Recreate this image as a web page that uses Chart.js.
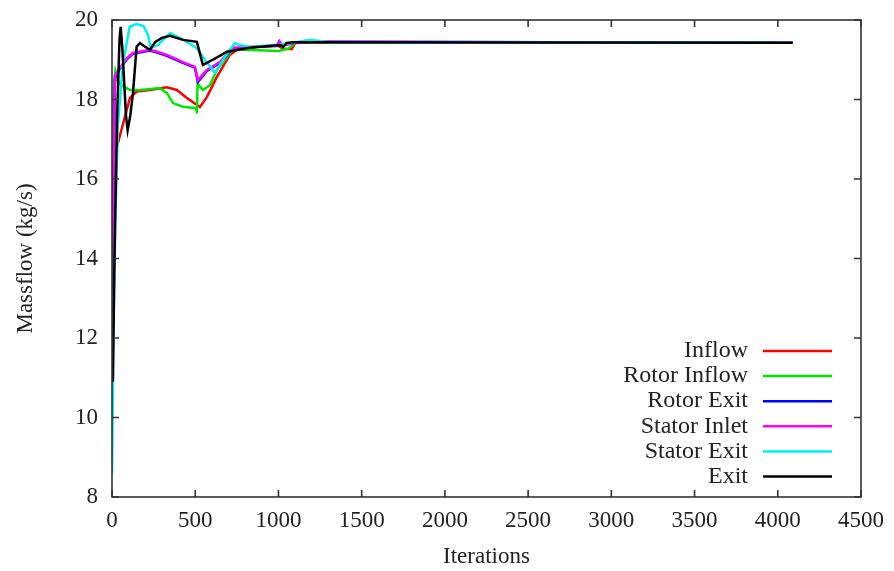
<!DOCTYPE html>
<html>
<head>
<meta charset="utf-8">
<script src="https://cdn.jsdelivr.net/npm/chart.js@4.4.0/dist/chart.umd.min.js"></script>
<style>
  html, body { margin: 0; padding: 0; background: #fff; }
  #wrap { width: 894px; height: 571px; }
</style>
</head>
<body>
<div id="wrap"><canvas id="massChart"></canvas></div>
<script>
// Data
const seriesNames = ['Inflow', 'Rotor Inflow', 'Rotor Exit', 'Stator Inlet', 'Stator Exit', 'Exit'];
const seriesColors = ['#ff0000', '#00e800', '#0000ff', '#ff00ff', '#00f0f0', '#000000'];

const inflowIter = [0, 4, 10, 28, 48, 80, 108, 148, 228, 330, 390, 450, 528, 570, 630, 708, 768, 850, 1000, 1030, 1080, 1100, 1200, 2000, 3000, 4090];
const inflowFlow = [11.5, 15.5, 16.4, 16.78, 17.1, 17.6, 18.04, 18.2, 18.24, 18.31, 18.24, 18.04, 17.81, 18.06, 18.57, 19.12, 19.3, 19.32, 19.35, 19.27, 19.27, 19.42, 19.44, 19.44, 19.44, 19.43];

const rotorInIter = [0, 6, 14, 20, 30, 54, 108, 168, 288, 330, 366, 426, 505, 510, 514, 546, 588, 630, 690, 726, 800, 1000, 1060, 1100, 1200, 4090];
const rotorInFlow = [16.7, 17.6, 18.5, 18.7, 18.5, 18.36, 18.24, 18.24, 18.29, 18.16, 17.91, 17.82, 17.78, 17.65, 18.4, 18.24, 18.36, 18.74, 19.07, 19.25, 19.25, 19.22, 19.28, 19.42, 19.44, 19.43];

const rotorExIter = [0, 4, 10, 18, 48, 90, 126, 228, 270, 330, 426, 498, 516, 570, 648, 726, 850, 990, 1020, 1100, 1200, 4090];
const rotorExFlow = [11.0, 13.6, 16.3, 18.55, 18.78, 19.02, 19.15, 19.23, 19.18, 19.1, 18.92, 18.8, 18.44, 18.72, 18.92, 19.28, 19.32, 19.35, 19.36, 19.43, 19.45, 19.43];

const statorInIter = [0, 4, 10, 18, 48, 90, 126, 228, 270, 330, 426, 498, 516, 570, 648, 726, 850, 990, 1005, 1020, 1100, 1200, 4090];
const statorInFlow = [10.9, 13.5, 16.2, 18.6, 18.8, 19.04, 19.17, 19.25, 19.2, 19.12, 18.94, 18.82, 18.49, 18.74, 18.94, 19.3, 19.33, 19.36, 19.47, 19.36, 19.43, 19.45, 19.43];

const statorExIter = [0, 10, 20, 36, 66, 106, 148, 190, 216, 234, 276, 348, 438, 508, 558, 618, 678, 738, 768, 828, 1000, 1100, 1190, 1300, 4090];
const statorExFlow = [8.6, 12.5, 15.0, 17.4, 18.9, 19.83, 19.9, 19.85, 19.62, 19.3, 19.37, 19.67, 19.48, 19.3, 19.0, 18.67, 19.07, 19.42, 19.37, 19.32, 19.38, 19.44, 19.5, 19.44, 19.43];

const exitIter = [0, 5, 15, 30, 45, 52, 62, 84, 94, 110, 126, 148, 168, 190, 228, 260, 300, 348, 426, 510, 546, 606, 690, 828, 1008, 1030, 1050, 1086, 1200, 4090];
const exitFlow = [11.4, 10.9, 14.0, 17.5, 19.5, 19.83, 19.3, 17.6, 17.23, 17.6, 18.16, 19.33, 19.42, 19.35, 19.25, 19.45, 19.55, 19.6, 19.5, 19.45, 18.87, 19.0, 19.2, 19.3, 19.37, 19.33, 19.42, 19.44, 19.44, 19.43];

const xTicks = [0, 500, 1000, 1500, 2000, 2500, 3000, 3500, 4000, 4500];
const yTicks = [8, 10, 12, 14, 16, 18, 20];

const iterSets = [inflowIter, rotorInIter, rotorExIter, statorInIter, statorExIter, exitIter];
const flowSets = [inflowFlow, rotorInFlow, rotorExFlow, statorInFlow, statorExFlow, exitFlow];

const serif = "'Liberation Serif', 'DejaVu Serif', serif";
const textColor = '#222';

function pairUp(xs, ys) {
  return xs.map((v, i) => ({ x: v, y: ys[i] }));
}

const datasets = seriesNames.map((name, i) => ({
  label: name,
  data: pairUp(iterSets[i], flowSets[i]),
  borderColor: seriesColors[i],
  backgroundColor: seriesColors[i],
  borderWidth: 2.5,
  pointRadius: 0,
  tension: 0,
  fill: false,
  order: seriesNames.length - i   // later series drawn on top, like gnuplot
}));

// Box around the plot plus inward ticks on all four sides
const frameTicks = {
  id: 'frameTicks',
  afterDatasetsDraw(chart) {
    const { ctx, chartArea: { left, right, top, bottom }, scales: { x, y } } = chart;
    ctx.save();
    ctx.strokeStyle = '#333';
    ctx.lineWidth = 1.6;
    ctx.strokeRect(left, top, right - left, bottom - top);
    const len = 7;
    ctx.beginPath();
    xTicks.forEach(v => {
      const px = x.getPixelForValue(v);
      ctx.moveTo(px, bottom); ctx.lineTo(px, bottom - len);
      ctx.moveTo(px, top); ctx.lineTo(px, top + len);
    });
    yTicks.forEach(v => {
      const py = y.getPixelForValue(v);
      ctx.moveTo(left, py); ctx.lineTo(left + len, py);
      ctx.moveTo(right, py); ctx.lineTo(right - len, py);
    });
    ctx.stroke();
    ctx.restore();
  }
};

// gnuplot-style key: right aligned text with the line sample after it
const keyBox = {
  id: 'keyBox',
  afterDraw(chart) {
    const ctx = chart.ctx;
    const textRight = 748;
    const lineStart = 763;
    const lineEnd = 832;
    const firstRow = 351;
    const rowStep = 25.1;
    ctx.save();
    ctx.font = '24px ' + serif;
    ctx.fillStyle = textColor;
    ctx.textAlign = 'right';
    ctx.textBaseline = 'middle';
    ctx.lineWidth = 2.5;
    chart.data.datasets.forEach((ds, i) => {
      const yy = firstRow + i * rowStep;
      ctx.fillText(ds.label, textRight, yy);
      ctx.strokeStyle = ds.borderColor;
      ctx.beginPath();
      ctx.moveTo(lineStart, yy);
      ctx.lineTo(lineEnd, yy);
      ctx.stroke();
    });
    ctx.restore();
  }
};

const ctx = document.getElementById('massChart').getContext('2d');
const massChart = new Chart(ctx, {
  type: 'line',
  data: { datasets: datasets },
  options: {
    responsive: true,
    maintainAspectRatio: false,
    animation: false,
    layout: { padding: { top: 20, right: 32, left: 0, bottom: 0 } },
    plugins: {
      legend: { display: false },
      tooltip: { enabled: false }
    },
    scales: {
      x: {
        type: 'linear',
        min: 0,
        max: 4500,
        afterBuildTicks: scale => { scale.ticks = xTicks.map(v => ({ value: v })); },
        afterFit: scale => { scale.height = 74; },
        grid: { display: false, drawTicks: false },
        border: { display: false },
        ticks: {
          color: textColor,
          font: { family: serif, size: 23 },
          padding: 10,
          maxRotation: 0,
          autoSkip: false,
          callback: v => String(v)
        },
        title: {
          display: true,
          text: 'Iterations',
          color: textColor,
          font: { family: serif, size: 23 },
          padding: { top: 8, bottom: 0 }
        }
      },
      y: {
        type: 'linear',
        min: 8,
        max: 20,
        afterBuildTicks: scale => { scale.ticks = yTicks.map(v => ({ value: v })); },
        afterFit: scale => {
          scale.width = 112;
          scale.paddingTop = 0;      // let the plot start at the layout padding
          scale.paddingBottom = 0;
        },
        grid: { display: false, drawTicks: false },
        border: { display: false },
        ticks: {
          color: textColor,
          font: { family: serif, size: 23 },
          padding: 14,
          autoSkip: false
        },
        title: {
          display: true,
          text: 'Massflow (kg/s)',
          color: textColor,
          font: { family: serif, size: 23 },
          padding: { top: 12, bottom: 0 }
        }
      }
    }
  },
  plugins: [frameTicks, keyBox]
});
</script>
</body>
</html>
